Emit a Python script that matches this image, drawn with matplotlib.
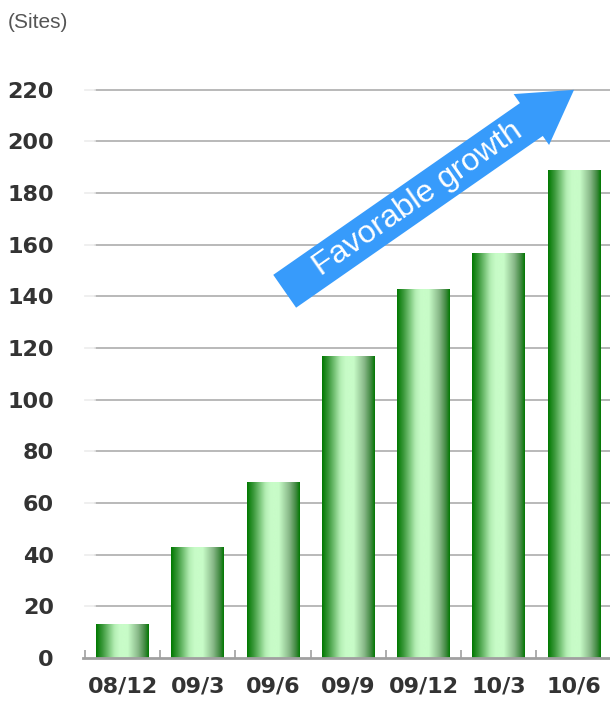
import numpy as np
import matplotlib
matplotlib.use("Agg")
import matplotlib.pyplot as plt
from matplotlib.colors import LinearSegmentedColormap
from matplotlib.patches import Polygon
from matplotlib.transforms import IdentityTransform

# Number of sites per quarter
quarters = ["08/12", "09/3", "09/6", "09/9", "09/12", "10/3", "10/6"]
sites = [13, 43, 68, 117, 143, 157, 189]
y_ticks = list(range(0, 221, 20))

# Arrow from (category index, sites) to tip
arrow_tail = (2.155, 142)
arrow_tip = (6.0, 220)
arrow_label = "Favorable growth"

fig = plt.figure(figsize=(6.1, 7.01), dpi=100)
ax = fig.add_axes([83 / 610, 43 / 701, 527 / 610, 594 / 701])

x = np.arange(len(quarters))
ax.set_xlim(-0.525, 6.478)
ax.set_ylim(0, 230)

# horizontal grid lines
for yv in y_ticks[1:]:
    ax.axhline(yv, xmin=12 / 527, xmax=1, color="#adadad", lw=1.2, zorder=1)
    ax.axhline(yv, xmin=2 / 527, xmax=12 / 527, color="#ececec", lw=1.2, zorder=1)

# bars with a cylindrical green gradient
green = LinearSegmentedColormap.from_list("bar", [
    (0.0, "#007800"), (0.12, "#3a983a"), (0.35, "#b4eeb4"), (0.45, "#c8fcc8"),
    (0.6, "#c8fcc8"), (0.8, "#88b888"), (0.93, "#3e883e"), (1.0, "#007800")])
grad = np.linspace(0, 1, 256).reshape(1, -1)
bars = ax.bar(x, sites, width=0.7, color="none", edgecolor="none", zorder=2)
for b in bars:
    x0, w, h = b.get_x(), b.get_width(), b.get_height()
    im = ax.imshow(grad, cmap=green, aspect="auto", extent=(x0, x0 + w, 0, h),
                   interpolation="bicubic", zorder=2)
    im.set_clip_path(b)

# axes styling
for s in ["left", "right", "top"]:
    ax.spines[s].set_visible(False)
ax.spines["bottom"].set_color("#a0a0a0")
ax.spines["bottom"].set_linewidth(2)
ax.spines["bottom"].set_zorder(3)

ax.set_yticks(y_ticks)
ax.set_yticklabels([str(v) for v in y_ticks])
ax.tick_params(axis="y", length=0, pad=21, labelsize=16, labelcolor="#333333")
ax.set_xticks(x)
ax.set_xticklabels(quarters)
ax.tick_params(axis="x", which="major", length=0, pad=13, labelsize=16,
               labelcolor="#333333")
ax.set_xticks(np.arange(-0.5, len(quarters) - 0.5, 1), minor=True)
ax.tick_params(axis="x", which="minor", direction="in", length=6, width=1.2,
               color="#a0a0a0")
for lab in ax.get_xticklabels() + ax.get_yticklabels():
    lab.set_fontweight("bold")
    lab.set_family("DejaVu Sans")

fig.text(8 / 610, 1 - 22 / 701, "(Sites)", fontsize=15, color="#555555",
         family="Liberation Sans", va="center", ha="left")

# blue arrow drawn in pixel space so its widths stay fixed
p0 = ax.transData.transform(arrow_tail)
p1 = ax.transData.transform(arrow_tip)
d = p1 - p0
L = np.hypot(*d)
u = d / L
n = np.array([-u[1], u[0]])
shaft_w, head_w, head_len = 40.0, 62.0, 52.0
base = p1 - u * head_len
pts = [p0 + n * shaft_w / 2, base + n * shaft_w / 2, base + n * head_w / 2, p1,
       base - n * head_w / 2, base - n * shaft_w / 2, p0 - n * shaft_w / 2]
ax.add_patch(Polygon(pts, closed=True, facecolor="#379bfb", edgecolor="none",
                     transform=IdentityTransform(), zorder=4, clip_on=False))

angle = np.degrees(np.arctan2(d[1], d[0]))
tx = arrow_tail[0] + 0.46 * (arrow_tip[0] - arrow_tail[0])
ty = arrow_tail[1] + 0.46 * (arrow_tip[1] - arrow_tail[1])
ax.text(tx, ty, arrow_label, rotation=angle, rotation_mode="anchor",
        ha="center", va="center", color="white", fontsize=23,
        family="Liberation Sans", zorder=5)

fig.savefig("out.png", dpi=100)
